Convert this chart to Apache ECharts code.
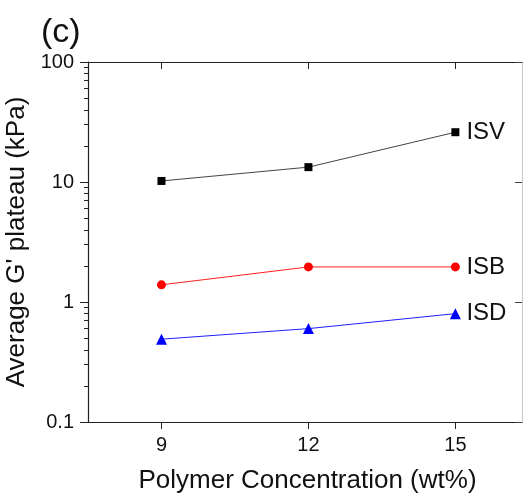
<!DOCTYPE html>
<html>
<head>
<meta charset="utf-8">
<script src="https://cdn.jsdelivr.net/npm/echarts@6/dist/echarts.min.js"></script>
<style>
  html, body { margin: 0; padding: 0; background: #fff; }
  #chart { width: 523px; height: 493px; }
</style>
</head>
<body>
<div id="chart"></div>
<script>
// Polymer concentration (wt%) on the x axis
var concentrations = [9, 12, 15];
var xTickValues = [9, 12, 15];

// Average G' plateau (kPa) per gel type
var isvValues = [10.2, 13.3, 26];
var isbValues = [1.39, 1.96, 1.96];
var isdValues = [0.49, 0.60, 0.80];

var yTickValues = [0.1, 1, 10, 100];
// minor ticks of the log axis: 2..9 within each decade
var minorMultipliers = [2, 3, 4, 5, 6, 7, 8, 9];
var decades = [0.1, 1, 10];

var FONT = 'Liberation Sans, Arial, sans-serif';

function pairs(xs, ys) {
  return xs.map(function (x, i) { return [x, ys[i]]; });
}

var minorLogPositions = [];
decades.forEach(function (d) {
  minorMultipliers.forEach(function (m) {
    minorLogPositions.push(Math.log10(d * m));
  });
});

var chart = echarts.init(document.getElementById('chart'), null, { renderer: 'canvas' });

var xMin = 7.5, xMax = 16.36;

function lineSeries(name, values, color, lineColor, symbol, size) {
  return {
    name: name,
    type: 'line',
    xAxisIndex: 0,
    yAxisIndex: 0,
    data: pairs(concentrations, values),
    symbol: symbol,
    symbolSize: size,
    itemStyle: { color: color },
    lineStyle: { color: lineColor, width: 1 },
    emphasis: { disabled: true },
    endLabel: {
      show: true,
      formatter: name,
      distance: 11,
      color: '#111',
      fontSize: 24,
      fontFamily: FONT
    },
    z: 5
  };
}

chart.setOption({
  animation: false,
  backgroundColor: '#fff',
  title: {
    text: '(c)',
    left: 36,
    top: 11,
    textStyle: { fontSize: 34, fontWeight: 'normal', color: '#111', fontFamily: FONT }
  },
  grid: { left: 88, top: 62, right: 1, bottom: 71, containLabel: false, outerBoundsMode: 'none' },
  xAxis: [
    {
      type: 'value',
      position: 'bottom',
      min: xMin,
      max: xMax,
      name: 'Polymer Concentration (wt%)',
      nameLocation: 'middle',
      nameGap: 46,
      nameTextStyle: { fontSize: 26, color: '#111', fontFamily: FONT, padding: [0, 0, 0, 5] },
      axisLine: { show: true, onZero: false, lineStyle: { color: '#222', width: 1.2 } },
      axisTick: { show: true, inside: false, length: 7, customValues: xTickValues, lineStyle: { color: '#222' } },
      axisLabel: { show: true, customValues: xTickValues, margin: 13, fontSize: 20, color: '#111', fontFamily: FONT },
      splitLine: { show: false }
    },
    {
      type: 'value',
      position: 'top',
      min: xMin,
      max: xMax,
      axisLine: { show: true, onZero: false, lineStyle: { color: '#222', width: 1.2 } },
      axisTick: { show: true, inside: true, length: 7, customValues: xTickValues, lineStyle: { color: '#222' } },
      axisLabel: { show: false },
      splitLine: { show: false }
    }
  ],
  yAxis: [
    {
      type: 'log',
      logBase: 10,
      position: 'left',
      min: 0.1,
      max: 100,
      interval: 1,
      name: "Average G' plateau (kPa)",
      nameLocation: 'middle',
      nameGap: 47,
      nameTextStyle: { fontSize: 26, color: '#111', fontFamily: FONT },
      axisLine: { show: true, onZero: false, lineStyle: { color: '#222', width: 1.2 } },
      axisTick: { show: true, inside: false, length: 8, customValues: yTickValues, lineStyle: { color: '#222' } },
      axisLabel: {
        show: true,
        customValues: yTickValues,
        margin: 14,
        fontSize: 20,
        color: '#111',
        fontFamily: FONT,
        formatter: function (v) { return String(+v.toPrecision(3)); }
      },
      splitLine: { show: false }
    },
    {
      type: 'log',
      logBase: 10,
      position: 'right',
      min: 0.1,
      max: 100,
      interval: 1,
      axisLine: { show: true, onZero: false, lineStyle: { color: '#c8c8c8', width: 1 } },
      axisTick: { show: true, inside: true, length: 7, customValues: yTickValues, lineStyle: { color: '#444' } },
      axisLabel: { show: false },
      splitLine: { show: false }
    },
    {
      // minor ticks of the left log axis, placed in log10 space
      type: 'value',
      position: 'left',
      min: -1,
      max: 2,
      axisLine: { show: false, onZero: false },
      axisTick: { show: true, inside: false, length: 4, customValues: minorLogPositions, lineStyle: { color: '#222' } },
      axisLabel: { show: false },
      splitLine: { show: false }
    }
  ],
  series: [
    lineSeries('ISV', isvValues, '#000000', '#444444', 'rect', 8),
    lineSeries('ISB', isbValues, '#ff0000', '#ff2020', 'circle', 9),
    lineSeries('ISD', isdValues, '#0000ff', '#2020ff', 'triangle', 11)
  ]
});
</script>
</body>
</html>
